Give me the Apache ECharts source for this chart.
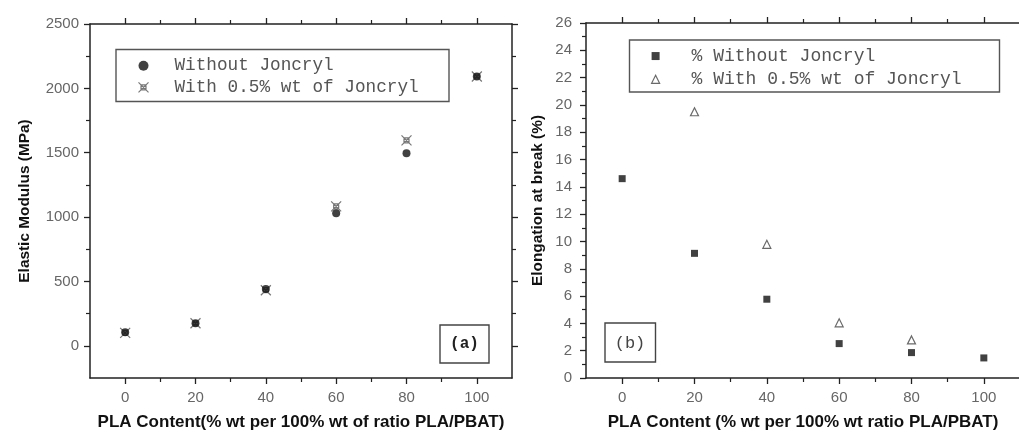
<!DOCTYPE html>
<html>
<head>
<meta charset="utf-8">
<script src="https://cdn.jsdelivr.net/npm/echarts@6/dist/echarts.min.js"></script>
<style>html,body{margin:0;padding:0;background:#fff}#c{width:1019px;height:432px}</style>
</head>
<body>
<div id="c"></div>
<script>
// ---- data ----
const plaContent = [0, 20, 40, 60, 80, 100];
const modulusWithout = [106, 176, 441, 1029, 1495, 2092];
const modulusWith = [100, 175, 432, 1083, 1596, 2092];
const elongWithout = [14.6, 9.13, 5.77, 2.52, 1.86, 1.47];
const elongWith = [null, 19.5, 9.79, 4.04, 2.79, null];
const xMajorTicks = [0, 20, 40, 60, 80, 100];
const xMinorTicks = [10, 30, 50, 70, 90];
const modulusMajorTicks = [0, 500, 1000, 1500, 2000, 2500];
const modulusMinorTicks = [250, 750, 1250, 1750, 2250];
const elongMajorTicks = [0, 2, 4, 6, 8, 10, 12, 14, 16, 18, 20, 22, 24, 26];
const elongMinorTicks = [1, 3, 5, 7, 9, 11, 13, 15, 17, 19, 21, 23, 25];
const namesA = ['Without Joncryl', 'With 0.5% wt of Joncryl'];
const namesB = ['% Without Joncryl', '% With 0.5% wt of Joncryl'];

const pairs = (xs, ys) => xs.map((x, i) => [x, ys[i]]).filter(p => p[1] != null);

const AX = '#222';
const LBL = { color: '#666', fontFamily: 'Liberation Sans', fontSize: 15, formatter: v => String(v) };
const TITLE = { color: '#111', fontFamily: 'Liberation Sans', fontWeight: 'bold', fontSize: 15.4 };
const MONO = 'Liberation Mono';

function xAxes(grid, name) {
  const base = { type: 'value', gridIndex: grid, min: -10, max: 110, splitLine: { show: false } };
  return [
    Object.assign({}, base, {
      position: 'bottom', name: name, nameLocation: 'middle', nameGap: 36,
      nameTextStyle: Object.assign({}, TITLE, { fontSize: 17 }),
      axisLine: { show: true, onZero: false, lineStyle: { color: AX, width: 1.5 } },
      axisTick: { show: true, customValues: xMajorTicks, length: 6, lineStyle: { color: AX, width: 1.3 } },
      axisLabel: Object.assign({ customValues: xMajorTicks, margin: 12 }, LBL)
    }),
    Object.assign({}, base, {
      position: 'bottom',
      axisLine: { show: false, onZero: false },
      axisTick: { show: true, customValues: xMinorTicks, length: 4, lineStyle: { color: AX, width: 1.2 } },
      axisLabel: { show: false }
    }),
    Object.assign({}, base, {
      position: 'top',
      axisLine: { show: true, onZero: false, lineStyle: { color: AX, width: 1.5 } },
      axisTick: { show: true, customValues: xMajorTicks, length: 6, lineStyle: { color: AX, width: 1.3 } },
      axisLabel: { show: false }
    }),
    Object.assign({}, base, {
      position: 'top',
      axisLine: { show: false, onZero: false },
      axisTick: { show: true, customValues: xMinorTicks, length: 4, lineStyle: { color: AX, width: 1.2 } },
      axisLabel: { show: false }
    })
  ];
}

function yAxes(grid, min, max, major, minor, name, gap, margin) {
  const base = { type: 'value', gridIndex: grid, min: min, max: max, splitLine: { show: false } };
  return [
    Object.assign({}, base, {
      position: 'left', name: name, nameLocation: 'middle', nameGap: gap, nameRotate: 90,
      nameTextStyle: TITLE,
      axisLine: { show: true, onZero: false, lineStyle: { color: AX, width: 1.5 } },
      axisTick: { show: true, customValues: major, length: 6, lineStyle: { color: AX, width: 1.3 } },
      axisLabel: Object.assign({ customValues: major, margin: margin }, LBL)
    }),
    Object.assign({}, base, {
      position: 'left',
      axisLine: { show: false, onZero: false },
      axisTick: { show: true, customValues: minor, length: 4, lineStyle: { color: AX, width: 1.2 } },
      axisLabel: { show: false }
    }),
    Object.assign({}, base, {
      position: 'right',
      axisLine: { show: true, onZero: false, lineStyle: { color: AX, width: 1.5 } },
      axisTick: { show: true, customValues: major, length: 6, lineStyle: { color: AX, width: 1.3 } },
      axisLabel: { show: false }
    }),
    Object.assign({}, base, {
      position: 'right',
      axisLine: { show: false, onZero: false },
      axisTick: { show: true, customValues: minor, length: 4, lineStyle: { color: AX, width: 1.2 } },
      axisLabel: { show: false }
    })
  ];
}

const crossSymbol = 'path://M0,0L10,10M10,0L0,10M2.5,2.5L7.5,2.5L7.5,7.5L2.5,7.5Z';

const chart = echarts.init(document.getElementById('c'), null, { renderer: 'canvas' });
chart.setOption({
  animation: false,
  backgroundColor: '#fff',
  grid: [
    { left: 90, top: 24, width: 422, height: 354, outerBoundsMode: 'none', containLabel: false },
    { left: 586, top: 23, width: 434, height: 355, outerBoundsMode: 'none', containLabel: false }
  ],
  xAxis: [].concat(
    xAxes(0, 'PLA Content(% wt per 100% wt of ratio PLA/PBAT)'),
    xAxes(1, 'PLA Content (% wt per 100% wt ratio PLA/PBAT)')
  ),
  yAxis: [].concat(
    yAxes(0, -250, 2500, modulusMajorTicks, modulusMinorTicks, 'Elastic Modulus (MPa)', 58, 11),
    yAxes(1, 0, 26, elongMajorTicks, elongMinorTicks, 'Elongation at break (%)', 41, 14)
  ),
  legend: [
    {
      data: [
        { name: namesA[0], icon: 'circle', itemStyle: { color: '#111' } },
        { name: namesA[1], icon: crossSymbol, itemStyle: { color: 'none', borderColor: '#555', borderWidth: 1.2 } }
      ],
      orient: 'vertical', left: 136, top: 55, padding: 0, itemGap: 0,
      itemWidth: 10, itemHeight: 10, selectedMode: false,
      textStyle: { fontFamily: MONO, fontSize: 17.7, color: '#555', lineHeight: 21.6, padding: [0, 0, 0, 21] }
    },
    {
      data: [
        { name: namesB[0], icon: 'rect', itemStyle: { color: '#111' } },
        { name: namesB[1], icon: 'triangle', itemStyle: { color: '#fff', borderColor: '#444', borderWidth: 1.2 } }
      ],
      orient: 'vertical', left: 651, top: 44.4, padding: 0, itemGap: 0,
      itemWidth: 8, itemHeight: 8, selectedMode: false,
      textStyle: { fontFamily: MONO, fontSize: 18, color: '#555', lineHeight: 23.3, padding: [0, 0, 0, 27] }
    }
  ],
  graphic: [
    { type: 'rect', shape: { x: 116, y: 49.5, width: 333, height: 52 }, style: { fill: 'none', stroke: '#555', lineWidth: 1.4 }, z: 10 },
    { type: 'rect', shape: { x: 629.5, y: 40, width: 370, height: 52 }, style: { fill: 'none', stroke: '#555', lineWidth: 1.4 }, z: 10 },
    { type: 'rect', shape: { x: 440, y: 325, width: 49, height: 38 }, style: { fill: 'none', stroke: '#444', lineWidth: 1.4 }, z: 10 },
    { type: 'text', x: 464.5, y: 344, style: { text: '(a)', fill: '#222', font: 'bold 16px "Liberation Mono"', align: 'center', verticalAlign: 'middle' }, z: 10 },
    { type: 'rect', shape: { x: 605, y: 323, width: 50.5, height: 39 }, style: { fill: 'none', stroke: '#444', lineWidth: 1.4 }, z: 10 },
    { type: 'text', x: 630, y: 343, style: { text: '(b)', fill: '#444', font: '17px "Liberation Mono"', align: 'center', verticalAlign: 'middle' }, z: 10 }
  ],
  series: [
    {
      name: namesA[1], type: 'scatter', xAxisIndex: 0, yAxisIndex: 0,
      data: pairs(plaContent, modulusWith), symbol: crossSymbol, symbolSize: 10,
      itemStyle: { color: 'none', borderColor: '#555', borderWidth: 1.2 }
    },
    {
      name: namesA[0], type: 'scatter', xAxisIndex: 0, yAxisIndex: 0,
      data: pairs(plaContent, modulusWithout), symbol: 'circle', symbolSize: 8,
      itemStyle: { color: '#111' }
    },
    {
      name: namesB[0], type: 'scatter', xAxisIndex: 4, yAxisIndex: 4,
      data: pairs(plaContent, elongWithout), symbol: 'rect', symbolSize: 7,
      itemStyle: { color: '#111' }
    },
    {
      name: namesB[1], type: 'scatter', xAxisIndex: 4, yAxisIndex: 4,
      data: pairs(plaContent, elongWith), symbol: 'triangle', symbolSize: 8,
      itemStyle: { color: '#fff', borderColor: '#444', borderWidth: 1.2 }
    }
  ]
});
</script>
</body>
</html>
